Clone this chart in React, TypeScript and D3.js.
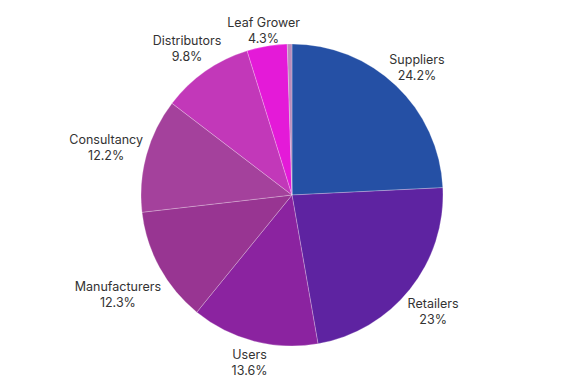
import React, { useEffect, useRef } from 'react';
import * as d3 from 'd3';

const categories = ['Suppliers', 'Retailers', 'Users', 'Manufacturers', 'Consultancy', 'Distributors', 'Leaf Grower', 'Other'];
const shares = [24.2, 23, 13.6, 12.3, 12.2, 9.8, 4.3, 0.5];
const shareLabels = ['24.2%', '23%', '13.6%', '12.3%', '12.2%', '9.8%', '4.3%', ''];
const colors = ['#2550a5', '#5e23a1', '#8b23a0', '#983592', '#a4419c', '#c238b9', '#e41ad8', '#b98bbb'];

interface Slice {
  name: string;
  value: number;
  label: string;
  color: string;
}

const App: React.FC = () => {
  const svgRef = useRef<SVGSVGElement>(null);

  useEffect(() => {
    if (!svgRef.current) return;

    const width = 585;
    const height = 390;
    const cx = 292;
    const cy = 195;
    const radius = 151;

    const data: Slice[] = categories.map((c, i) => ({
      name: c,
      value: shares[i],
      label: shareLabels[i],
      color: colors[i],
    }));

    const svg = d3.select(svgRef.current);
    svg.selectAll('*').remove();
    svg.attr('width', width).attr('height', height);

    const g = svg.append('g').attr('transform', `translate(${cx},${cy})`);

    const pie = d3.pie<Slice>().sort(null).value(d => d.value);
    const arc = d3.arc<d3.PieArcDatum<Slice>>().innerRadius(0).outerRadius(radius);
    const arcs = pie(data);

    g.selectAll('path')
      .data(arcs)
      .enter()
      .append('path')
      .attr('d', arc)
      .attr('fill', d => d.data.color)
      .attr('stroke', '#ffffff')
      .attr('stroke-opacity', 0.35)
      .attr('stroke-width', 0.7);

    // labels outside, pushed out by their own size
    const labels = g.selectAll('g.lbl')
      .data(arcs.filter(d => d.data.label !== ''))
      .enter()
      .append('g')
      .attr('class', 'lbl');

    labels.append('text')
      .attr('text-anchor', 'middle')
      .attr('font-family', 'Inter, "Open Sans", sans-serif')
      .attr('font-size', 12.5)
      .attr('fill', '#333333')
      .each(function (d) {
        const t = d3.select(this);
        t.append('tspan').attr('x', 0).attr('dy', '-0.2em').text(d.data.name);
        t.append('tspan').attr('x', 0).attr('dy', '1.3em').text(d.data.label);
      });

    labels.each(function (d) {
      const node = this as SVGGElement;
      const box = node.getBBox();
      const a = (d.startAngle + d.endAngle) / 2;
      const s = Math.sin(a);
      const c = -Math.cos(a);
      const r = radius - 2 + Math.abs(s) * box.width * 0.56 + Math.abs(c) * 15;
      const bx = box.x + box.width / 2;
      const by = box.y + box.height / 2;
      d3.select(node).attr('transform', `translate(${s * r - bx},${c * r - by + 4})`);
    });
  }, []);

  return (
    <div style={{ position: 'absolute', left: 0, top: 0, width: 585, height: 390, background: '#ffffff' }}>
      <svg ref={svgRef} style={{ display: 'block' }} />
    </div>
  );
};

export default App;
